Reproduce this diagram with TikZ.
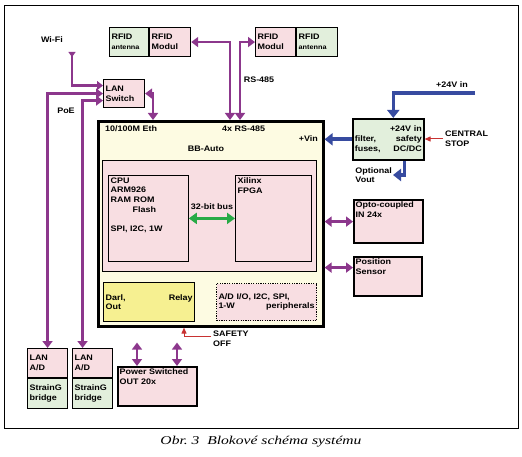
\documentclass[tikz,border=0pt]{standalone}
\usepackage{fontspec}
\setmainfont[FakeStretch=1.12]{Liberation Sans}
\newfontfamily\capfont[FakeStretch=1.3]{Liberation Serif}
\usetikzlibrary{arrows.meta,positioning}
\definecolor{lila}{RGB}{140,55,140}
\definecolor{modra}{RGB}{55,75,160}
\definecolor{zelena}{RGB}{40,170,70}
\definecolor{cervena}{RGB}{200,50,50}
\definecolor{ruzova}{RGB}{248,222,226}
\definecolor{svzel}{RGB}{226,239,220}
\definecolor{krem}{RGB}{253,251,226}
\definecolor{zluta}{RGB}{246,240,145}
\newcommand{\pismo}{\bfseries\fontsize{8}{9.6}\selectfont}
\newcommand{\mensi}{\fontsize{6.5}{8}\selectfont}

\begin{document}
\begin{tikzpicture}[x=1pt,y=-1pt,
block/.style = {
draw,                    %% text centered
anchor      = north west,
inner sep   = 2pt,
align       = left,
line width  = 1.1pt,
font        = \pismo},
box/.style = {
draw,                    %% text by label
anchor      = north west,
inner sep   = 0pt,
line width  = 1.1pt},
lbl/.style = {anchor=north west, inner sep=2.5pt, align=left, font=\pismo},
txt/.style = {inner sep=1pt, align=left, font=\pismo},
purple edge/.style = {draw=lila, line width=2.8pt,
  >={Triangle[width=10pt,length=7pt]}, <->},
wifi edge/.style   = {draw=lila, line width=2.4pt,
  {Triangle[reversed,width=7pt,length=5pt]}-{Triangle[width=9pt,length=6pt]}},
blue edge/.style   = {draw=modra, line width=3.6pt,
  >={Triangle[width=12pt,length=8pt]}, ->},
red edge/.style    = {draw=cervena, line width=1pt,
  >={Triangle[width=5pt,length=6pt]}, ->},
green edge/.style  = {draw=zelena, line width=3pt,
  >={Triangle[width=11pt,length=8pt]}, <->}
]
\useasboundingbox (0,0) rectangle (522,457);
\draw[line width=0.9pt] (4,5) rectangle (518,428);
%
\node[block, fill=svzel, minimum width=39pt, minimum height=29pt, text width=35pt] (antL) at (109,27) {RFID\\{\mensi antenna}};
\node[block, fill=ruzova, minimum width=41pt, minimum height=29pt, text width=37pt, right=0pt of antL] (modL) {RFID\\Modul};
\node[block, fill=ruzova, minimum width=40pt, minimum height=29pt, text width=36pt] (modR) at (255,27) {RFID\\Modul};
\node[block, fill=svzel, minimum width=41pt, minimum height=29pt, text width=37pt, right=0pt of modR] (antR) {RFID\\{\mensi antenna}};
\node[block, fill=ruzova, minimum width=41pt, minimum height=28pt, text width=37pt] (sw) at (103,79) {LAN\\Switch};
%
\node[box, fill=krem, line width=2.6pt, minimum width=225pt, minimum height=205pt] (bb) at (97,120) {};
\node[box, fill=ruzova, line width=0.8pt, minimum width=214pt, minimum height=111pt] (inner) at (102,160) {};
\node[box, fill=ruzova, line width=0.8pt, minimum width=80pt, minimum height=86pt,
  label={[lbl]north west:CPU\\ARM926\\RAM ROM\\\hspace*{22pt}Flash\\[9.6pt]SPI, I2C, 1W}] (cpu) at (108,175) {};
\node[box, fill=ruzova, line width=0.8pt, minimum width=76pt, minimum height=86pt,
  label={[lbl]north west:Xilinx\\FPGA}] (fpga) at (235,175) {};
\node[block, fill=zluta, line width=1.4pt, minimum width=91pt, minimum height=39pt, text width=87pt] (darl) at (103,282) {Darl,\hfill Relay\\Out};
\node[block, fill=ruzova, line width=1pt, dash pattern=on 1.2pt off 1.2pt, minimum width=100pt, minimum height=37pt, text width=96pt] (peri) at (216,283) {A/D I/O, I2C, SPI,\\1-W\hfill peripherals\hspace*{4pt}};
\node[txt, anchor=west] (eth) at (104,129) {10/100M Eth};
\node[txt, anchor=west] (rs4) at (221,129) {4x RS-485};
\node[txt, anchor=east] (vin) at (319,139) {+Vin};
\node[txt] (bbname) at (206,149) {BB-Auto};
\node[txt] (bus) at (212,207) {32-bit bus};
%
\node[block, fill=svzel, line width=1.6pt, minimum width=71pt, minimum height=41pt, text width=67pt] (psu) at (352,118) {\hspace*{\fill}+24V in\hspace*{\fill}\\filter,\hfill safety\\fuses,\hfill DC/DC};
\node[box, fill=ruzova, line width=2.2pt, minimum width=69pt, minimum height=43pt,
  label={[lbl]north west:Opto-coupled\\IN 24x}] (opto) at (353,199) {};
\node[box, fill=ruzova, line width=2.2pt, minimum width=68pt, minimum height=39pt,
  label={[lbl]north west:Position\\Sensor}] (pos) at (353,256) {};
\node[box, fill=ruzova, line width=2.2pt, minimum width=79pt, minimum height=39pt,
  label={[lbl]north west:Power Switched\\OUT 20x}] (pwr) at (117,366) {};
%
\node[block, fill=ruzova, minimum width=40pt, minimum height=29pt, text width=36pt] (lan1) at (27,348) {LAN\\A/D};
\node[block, fill=svzel, minimum width=40pt, minimum height=30pt, text width=36pt, below=0pt of lan1] (sg1) {StrainG\\bridge};
\node[block, fill=ruzova, minimum width=40pt, minimum height=29pt, text width=36pt] (lan2) at (72,348) {LAN\\A/D};
\node[block, fill=svzel, minimum width=40pt, minimum height=30pt, text width=36pt, below=0pt of lan2] (sg2) {StrainG\\bridge};
%
\coordinate (wifi) at (72,52);
\coordinate (in24) at (475,93);
\coordinate (vout) at (393,175);
\coordinate (cstop) at (443,139);
\coordinate (safe) at (211,336);
\node[txt] (wifilbl) at (52,40) {Wi-Fi};
\node[txt] (poe) at (66,111) {PoE};
\node[txt] (rs485) at (259,80) {RS-485};
\node[txt] (in24lbl) at (452,85) {+24V in};
\node[txt, anchor=west] (stoplbl) at (444,139) {CENTRAL\\STOP};
\node[txt, left=0pt of vout] (voutlbl) {Optional\\Vout};
\node[txt, anchor=west] (safelbl) at (212,339) {SAFETY\\OFF};
%
\draw[wifi edge] (wifi) |- ([yshift=8pt]sw.west);
\draw[purple edge] (lan1.north) |- (sw.west);
\draw[purple edge] ([xshift=-10pt]lan2.north) |- ([yshift=-7pt]sw.west);
\draw[purple edge] (sw.east) -| ([xshift=56pt]bb.north west);
\draw[purple edge] (modL.east) -| ([xshift=133pt]bb.north west);
\draw[purple edge] (modR.west) -| ([xshift=143pt]bb.north west);
\draw[purple edge] (opto.west) -- (opto.west -| bb.east);
\draw[purple edge] ([yshift=9pt]pos.west) -- ([yshift=9pt]pos.west -| bb.east);
\draw[purple edge, shorten >=15pt] ([xshift=20pt]pwr.north west) -- ([xshift=20pt]pwr.north west |- bb.south);
\draw[purple edge, shorten >=15pt] ([xshift=60pt]pwr.north west) -- ([xshift=60pt]pwr.north west |- bb.south);
\draw[green edge] (cpu) -- (fpga);
\draw[blue edge] (in24) -| ([xshift=5pt]psu.north);
\draw[blue edge] (psu.west) -- (psu.west -| bb.east);
\draw[blue edge] ([xshift=16pt]psu.south) |- (vout);
\draw[red edge] (cstop) -- (cstop -| psu.east);
\draw[red edge] (safe) -| ([xshift=87pt]bb.south west);
%
\node[font=\capfont\itshape\fontsize{12}{14}\selectfont] (cap) at (261,442) {Obr.\ 3\ \ Blokové schéma systému};
\end{tikzpicture}
\end{document}
